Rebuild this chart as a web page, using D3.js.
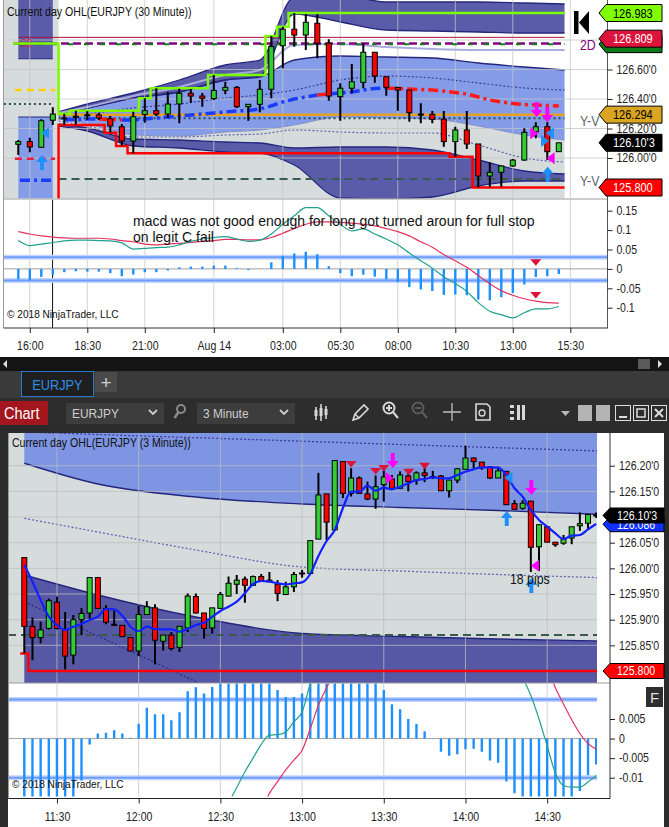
<!DOCTYPE html>
<html>
<head>
<meta charset="utf-8">
<title>EURJPY</title>
<script src="https://cdn.jsdelivr.net/npm/d3@7"></script>
<style>
  html, body { margin: 0; padding: 0; background: #2b2b2b; overflow: hidden; }
  svg { display: block; font-family: "Liberation Sans", Arial, sans-serif; }
  .cx  { transform: scaleX(0.88); transform-box: fill-box; transform-origin: 0 50%; }
  .cxm { transform: scaleX(0.88); transform-box: fill-box; transform-origin: 50% 50%; }
</style>
</head>
<body>
<svg id="chart" width="669" height="827"></svg>
<script>
// ---------- top chart: 30 minute bars, index 0 = 15:30 (Aug 13) ----------
const topTickIdx = [1, 6, 11, 17, 23, 28, 33, 38, 43, 48];
const topTickLabels = ["16:00", "18:30", "21:00", "Aug 14", "03:00", "05:30", "08:00", "10:30", "13:00", "15:30"];
const topPriceTicks = [126.0, 126.2, 126.4, 126.6];
const topGridPrices = [126.0, 126.2, 126.4, 126.6, 126.8];
const topMacdTicks = [-0.1, -0.05, 0, 0.05, 0.1, 0.15];

const topOpen  = [126.093,126.111,126.073,126.256,126.268,126.276,126.289,126.292,126.266,126.212,126.115,126.296,126.321,126.298,126.366,126.439,126.420,126.403,126.459,126.479,126.348,126.364,126.466,126.761,126.873,126.834,126.913,126.778,126.416,126.473,126.513,126.717,126.551,126.479,126.461,126.298,126.296,126.264,126.111,126.190,126.095,125.878,125.903,125.946,125.986,126.178,126.212,126.043];
const topHigh  = [126.122,126.138,126.262,126.344,126.300,126.321,126.319,126.305,126.285,126.231,126.314,126.405,126.473,126.450,126.470,126.468,126.441,126.563,126.517,126.488,126.366,126.529,126.827,126.890,126.983,126.975,126.975,126.805,126.506,126.637,126.778,126.719,126.551,126.481,126.461,126.371,126.319,126.319,126.212,126.319,126.095,125.971,125.946,125.993,126.201,126.242,126.242,126.104];
const topLow   = [126.020,126.039,126.073,126.224,126.224,126.224,126.258,126.258,126.172,126.081,126.032,126.239,126.285,126.271,126.235,126.375,126.348,126.393,126.432,126.339,126.253,126.310,126.405,126.608,126.755,126.732,126.676,126.388,126.253,126.439,126.473,126.511,126.422,126.321,126.246,126.235,126.235,126.077,126.009,126.061,125.800,125.800,125.805,125.941,125.982,126.134,125.986,126.043];
const topClose = [126.111,126.075,126.253,126.298,126.272,126.283,126.293,126.271,126.217,126.115,126.280,126.321,126.298,126.366,126.439,126.420,126.405,126.458,126.479,126.348,126.364,126.466,126.755,126.873,126.834,126.920,126.778,126.420,126.473,126.517,126.717,126.556,126.479,126.461,126.307,126.293,126.262,126.111,126.190,126.095,125.878,125.903,125.946,125.986,126.174,126.212,126.043,126.103];

// session vwap, bars 4..47
const topVwapStart = 4;
const topVwap = [126.258,126.261,126.264,126.264,126.261,126.258,126.258,126.264,126.271,126.278,126.285,126.292,126.298,126.305,126.312,126.319,126.322,126.332,126.353,126.380,126.400,126.414,126.427,126.434,126.441,126.447,126.461,126.471,126.475,126.471,126.468,126.464,126.461,126.454,126.444,126.434,126.414,126.393,126.380,126.369,126.363,126.359,126.356,126.353];

// deviation bands, sampled at bar positions
const topBandIdx = [3.5, 6, 10, 14, 18, 21, 24, 28, 32, 36, 40, 44, 47.5];
const topUp3   = [126.3119,126.3661,126.4407,126.5288,126.6305,126.6644,127.0915,127.1051,127.0576,127.0576,127.0576,127.0508,127.0441];
const topUp2   = [126.3051,126.3390,126.4068,126.4475,126.5288,126.5559,126.9763,126.9220,126.8678,126.8610,126.8542,126.8475,126.8475];
const topUp1   = [126.3051,126.3390,126.4068,126.4475,126.5288,126.5492,126.6644,126.6915,126.6847,126.6780,126.6441,126.6169,126.5966];
const topLbB   = [126.2644,126.2305,126.1559,126.1492,126.1763,126.1898,126.2237,126.2780,126.2712,126.2644,126.2169,126.1559,126.1220];
const topDn2   = [126.2305,126.2034,126.1288,126.1220,126.1085,126.1017,126.0678,126.0746,126.0746,126.0542,125.9864,125.9119,125.8915];
const topDn3   = [126.2169,126.1831,126.0814,126.0678,126.0407,126.0339,125.9525,125.7288,125.7220,125.7356,125.8102,125.8441,125.8441];
const topDotHi = [126.3051,126.3458,126.4203,126.4814,126.5627,126.5966,126.7661,126.7729,126.7525,126.7390,126.7322,126.7322,126.7322];
const topDotLb = [126.2847,126.2983,126.3390,126.3661,126.4068,126.4271,126.4610,126.5288,126.5559,126.5424,126.5085,126.4746,126.4610];
const topDotMid= [126.2508,126.2169,126.1424,126.1424,126.1559,126.1627,126.1898,126.1763,126.1695,126.1695,126.0881,126.0000,125.9729];

const topSessionStart = 3.5;
const topSessionBreak = 2.98;
const prevBandFrom = 0, prevBandTo = 3;
const prevUpperEdge = 126.673, prevLowerEdge = 126.278;
const prevDayHigh = 126.776, prevDayLow = 125.700;

const topLevelNames  = ["prevGold","prevRed","prevDot","prevVwap","orange","sessDot","sessDash","maroon","purple2D","green2D"];
const topLevelValues = [126.461, 125.995, 126.366, 125.849, 126.294, 126.269, 125.858, 126.818, 126.776, 126.772];
const topLevelFrom   = [-0.3, -0.3, -1.25, 0.15, 3.5, 3.5, 3.5, 0.05, -0.46, -0.46];
const topLevelTo     = [3.2, 3.2, 2.95, 2.95, 47.5, 47.5, 47.5, 47.5, 47.5, 47.5];

const topMarkIdx   = [2.32, 2.06, 45.07, 46.0, 44.87, 46.23, 45.8, 46.29, 46.03];
const topMarkPrice = [126.169, 126.020, 126.278, 126.244, 126.167, 126.167, 126.115, 125.998, 125.941];
const topMarkKind  = ["buyTriL","buyArrow","sellArrow","sellArrow","sellTriR","buyTriL","buyTriR","sellTriL","buyArrow"];

const topHist   = [-0.027,-0.030,-0.021,-0.015,-0.0085,-0.006,-0.007,-0.007,-0.011,-0.019,-0.0145,-0.0085,-0.0085,-0.004,0.004,0.006,0.006,0.0085,0.0085,0.002,-0.003,0,0.017,0.034,0.040,0.044,0.038,0.007,-0.011,-0.019,-0.015,-0.020,-0.027,-0.034,-0.047,-0.053,-0.057,-0.067,-0.066,-0.068,-0.079,-0.081,-0.073,-0.062,-0.040,-0.021,-0.019,-0.013];
const topMacd   = [0.073,0.060,0.064,0.068,0.072,0.074,0.074,0.073,0.072,0.067,0.051,0.053,0.055,0.056,0.062,0.071,0.077,0.081,0.083,0.077,0.071,0.074,0.090,0.115,0.137,0.158,0.158,0.137,0.115,0.098,0.103,0.090,0.077,0.062,0.041,0.021,0.002,-0.020,-0.038,-0.058,-0.087,-0.109,-0.118,-0.126,-0.113,-0.103,-0.103,-0.097];
const topSignal = [0.096,0.090,0.085,0.082,0.080,0.079,0.079,0.079,0.077,0.073,0.070,0.064,0.062,0.064,0.066,0.068,0.071,0.073,0.076,0.076,0.075,0.075,0.081,0.092,0.104,0.115,0.121,0.121,0.120,0.118,0.115,0.111,0.104,0.096,0.085,0.070,0.056,0.037,0.021,0.004,-0.017,-0.038,-0.056,-0.068,-0.077,-0.083,-0.087,-0.088];
const topMacdLevels = [0.03, -0.03];
const topMacdMarkIdx = [45, 45];
const topMacdMarkVal = [0.017, -0.067];

// right side price flags (the two-day flag sits under the open flag, its label hidden)
const topFlagValues = [126.983, 126.772, 126.809, 126.294, 126.103, 125.800];
const topFlagText   = ["126.983", "", "126.809", "126.294", "126.10'3", "125.800"];
const topFlagKind   = ["high", "twoDay", "open", "yValue", "last", "low"];

// ---------- bottom chart: 3 minute bars, index 0 = 11:18 ----------
const botTickIdx = [4, 14, 24, 34, 44, 54, 64];
const botTickLabels = ["11:30", "12:00", "12:30", "13:00", "13:30", "14:00", "14:30"];
const botPriceTicks = [125.85, 125.90, 125.95, 126.00, 126.05, 126.10, 126.15, 126.20];
const botPriceLabelTicks = [125.85, 125.90, 125.95, 126.00, 126.05, 126.15, 126.20]; // 126.10 sits under the last-price flag
const botMacdTicks = [-0.01, -0.005, 0, 0.005];

const botOpen  = [126.021,125.887,125.865,125.883,125.934,125.881,125.831,125.900,125.913,125.982,125.922,125.891,125.889,125.865,125.839,125.910,125.923,125.858,125.870,125.846,125.884,125.945,125.913,125.884,125.922,125.946,125.969,125.979,125.967,125.984,125.977,125.969,125.949,125.964,125.990,125.990,126.057,126.145,126.075,126.208,126.146,126.176,126.145,126.135,126.163,126.174,126.156,126.180,126.172,126.186,126.179,126.180,126.151,126.172,126.193,126.215,126.207,126.198,126.176,126.189,126.126,126.117,126.131,126.042,126.081,126.051,126.049,126.059,126.083,126.088,126.104];
const botHigh  = [126.021,125.904,125.896,125.941,125.945,125.915,125.909,125.923,125.982,125.982,125.928,125.918,125.889,125.865,125.928,125.936,125.930,125.870,125.876,125.887,125.951,125.951,125.913,125.923,125.954,125.984,125.987,125.984,125.986,125.989,125.993,125.977,125.974,125.993,125.997,126.054,126.186,126.145,126.210,126.208,126.195,126.179,126.169,126.181,126.195,126.182,126.189,126.189,126.189,126.205,126.190,126.182,126.172,126.195,126.239,126.216,126.207,126.198,126.198,126.189,126.133,126.133,126.131,126.085,126.081,126.051,126.065,126.081,126.109,126.105,126.109];
const botLow   = [125.834,125.821,125.854,125.881,125.881,125.803,125.813,125.870,125.902,125.922,125.891,125.888,125.867,125.839,125.829,125.909,125.813,125.840,125.840,125.837,125.876,125.912,125.863,125.873,125.922,125.945,125.950,125.933,125.966,125.974,125.974,125.936,125.948,125.954,125.982,125.990,126.057,126.055,126.073,126.137,126.140,126.146,126.133,126.116,126.130,126.156,126.156,126.150,126.163,126.168,126.174,126.151,126.138,126.166,126.193,126.195,126.192,126.174,126.176,126.124,126.114,126.114,125.993,125.995,126.051,126.042,126.046,126.047,126.073,126.075,126.098];
const botClose = [125.887,125.865,125.880,125.937,125.883,125.829,125.900,125.912,125.982,125.922,125.895,125.889,125.867,125.839,125.910,125.925,125.860,125.870,125.844,125.887,125.946,125.913,125.883,125.923,125.949,125.971,125.977,125.967,125.984,125.975,125.974,125.951,125.964,125.988,125.991,126.054,126.143,126.090,126.210,126.146,126.176,126.146,126.135,126.159,126.178,126.156,126.182,126.169,126.186,126.181,126.179,126.151,126.172,126.194,126.215,126.208,126.196,126.176,126.190,126.124,126.115,126.127,126.041,126.085,126.051,126.046,126.057,126.081,126.087,126.105,126.103];
const botEma   = [126.0065,125.9740,125.9383,125.9058,125.8896,125.8799,125.8863,125.8916,125.8994,125.9058,125.9208,125.9202,125.9077,125.8863,125.8779,125.8863,125.8818,125.8812,125.8812,125.8766,125.8818,125.8896,125.8941,125.9058,125.9169,125.9253,125.9350,125.9514,125.9695,125.9754,125.9740,125.9709,125.9689,125.9709,125.9728,125.9890,126.0241,126.0533,126.0747,126.1176,126.1493,126.1493,126.1610,126.1513,126.1571,126.1540,126.1591,126.1657,126.1721,126.1741,126.1774,126.1755,126.1755,126.1819,126.1883,126.1930,126.1969,126.1969,126.1961,126.1819,126.1560,126.1396,126.1137,126.0942,126.0811,126.0683,126.0572,126.0636,126.0650,126.0761,126.0864];

const botBandIdx     = [0, 9, 21, 34, 46, 58, 70.5];
const botBandTopDot  = [126.2657,126.2608,126.2546,126.2477,126.2413,126.2351,126.2286];
const botBandUpper   = [126.2047,126.1643,126.1390,126.1254,126.1186,126.1127,126.1053];
const botBandMidDot  = [126.0975,126.0708,126.0358,126.0026,125.9948,125.9880,125.9818];
const botBandLower   = [125.9870,125.9481,125.9052,125.8731,125.8672,125.8623,125.8585];
const botBandLowDot  = [125.9350,125.8682,125.7792,125.6800,125.6000,125.5500,125.5000];
const botValueLine = 125.870;
const botLowIdx = [-0.5, 0.5, 70.5];
const botLowVal = [125.834, 125.800, 125.800];

const botMarkIdx   = [40.0, 43.0, 44.0, 47.05, 49.0, 45.1, 44.7, 59.25, 59.05, 62.06, 62.5, 62.06];
const botMarkPrice = [126.2033, 126.1897, 126.1955, 126.1883, 126.2000, 126.1955, 126.1760, 126.1766, 126.1117, 126.1429, 126.0051, 125.9812];
const botMarkKind  = ["sigDown","sigDown","sigDown","sigDown","sigDown","sellArrow","sellTriR","buyTriL","buyArrow","sellArrow","sellTriL","buyArrow"];

const botHist = [-0.018,-0.018,-0.017,-0.016,-0.016,-0.015,-0.015,-0.0107,-0.0015,0.0013,0.0015,0.0021,0.0013,0.0002,0.0038,0.0079,0.0062,0.0062,0.0047,0.0067,0.0121,0.0131,0.0115,0.0132,0.016,0.018,0.019,0.020,0.020,0.019,0.018,0.0124,0.0106,0.0106,0.0115,0.016,0.019,0.021,0.022,0.022,0.021,0.020,0.018,0.016,0.0124,0.0088,0.0075,0.005,0.0037,0.0019,0.0001,-0.0034,-0.0044,-0.004,-0.0027,-0.0026,-0.0034,-0.0056,-0.0062,-0.011,-0.014,-0.016,-0.018,-0.019,-0.020,-0.020,-0.019,-0.017,-0.0134,-0.0094,-0.0066];
const botMacd = [-0.030,-0.032,-0.033,-0.034,-0.034,-0.035,-0.035,-0.034,-0.033,-0.032,-0.031,-0.031,-0.030,-0.030,-0.029,-0.028,-0.028,-0.027,-0.027,-0.026,-0.025,-0.024,-0.023,-0.022,-0.020,-0.0165,-0.0125,-0.0085,-0.005,-0.0015,0.0009,0.001,0.0017,0.0043,0.0068,0.014,0.020,0.025,0.029,0.033,0.036,0.038,0.039,0.040,0.040,0.039,0.038,0.037,0.036,0.035,0.034,0.032,0.031,0.030,0.029,0.028,0.027,0.025,0.023,0.021,0.019,0.0155,0.011,0.005,-0.0019,-0.0088,-0.012,-0.0124,-0.0124,-0.0111,-0.0094];
const botSignal = [-0.036,-0.036,-0.036,-0.036,-0.036,-0.036,-0.036,-0.035,-0.035,-0.034,-0.034,-0.033,-0.033,-0.032,-0.032,-0.031,-0.031,-0.030,-0.030,-0.029,-0.028,-0.028,-0.027,-0.027,-0.026,-0.025,-0.024,-0.022,-0.020,-0.018,-0.014,-0.011,-0.008,-0.0055,-0.003,0.0025,0.0085,0.013,0.017,0.020,0.023,0.026,0.028,0.030,0.031,0.032,0.032,0.032,0.032,0.032,0.031,0.031,0.030,0.029,0.028,0.027,0.026,0.025,0.024,0.023,0.022,0.021,0.021,0.020,0.018,0.013,0.0088,0.0048,0.0013,-0.0013,-0.0027];
const botMacdLevels = [0.01, -0.01];

const botFlagValues = [126.086, 126.103, 125.800];
const botFlagText   = ["126.086", "126.10'3", "125.800"];
const botFlagKind   = ["ema", "last", "low"];

// ---------- styles ----------
const DARK = "#5a5ca9", LIGHT = "#859ce9", GRAY = "#d6dcdc", NAVY = "#24267e";
const UP = "#33cc33", DOWN = "#ff0000";
const VW_BLUE = "#1a3cff", VW_RED = "#ff1a1a";
const HIST = "#1e90ff", MACD_C = "#20a08f", SIG_C = "#e2335f";

const LEVEL_STYLE = {
  prevGold: {stroke: "#ffd000", w: 2.5, dash: "7,5"},
  prevRed:  {stroke: "#e8203c", w: 2.5, dash: "7,5"},
  prevDot:  {stroke: "#2f4f4f", w: 2,   dash: "2,3"},
  prevVwap: {stroke: VW_BLUE,   w: 3.5, dash: "10,4,3,4"},
  orange:   {stroke: "#e8a020", w: 2.5},
  sessDot:  {stroke: "#2f4f4f", w: 2,   dash: "2,3"},
  sessDash: {stroke: "#3a5a50", w: 2,   dash: "8,5"},
  maroon:   {stroke: "#b0103a", w: 1},
  purple2D: {stroke: "#800080", w: 2.5, dash: "8,4"},
  green2D:  {stroke: "#108010", w: 2,   dash: "5,11", off: 9}
};
const FLAG_STYLE = {
  high:   {fill: "#7fff00", text: "#000"},
  twoDay: {fill: "#0a7a1a", text: "#000"},
  open:   {fill: "#dc143c", text: "#fff"},
  yValue: {fill: "#daa520", text: "#000"},
  last:   {fill: "#000000", text: "#fff"},
  low:    {fill: "#ff0000", text: "#fff"},
  ema:    {fill: "#1030ff", text: "#fff"}
};
const MARK = {
  sellArrow: {fill: "#ff00ff", d: "M0,0 L-6,-7 L-2,-7 L-2,-15 L2,-15 L2,-7 L6,-7 Z"},
  buyArrow:  {fill: "#1e90ff", d: "M0,0 L-6,7 L-2,7 L-2,15 L2,15 L2,7 L6,7 Z"},
  sellTriL:  {fill: "#ff00ff", d: "M-4,0 L4,-6 L4,6 Z"},
  sellTriR:  {fill: "#ff00ff", d: "M4,0 L-4,-6 L-4,6 Z"},
  buyTriL:   {fill: "#1e90ff", d: "M-4,0 L4,-6 L4,6 Z"},
  buyTriR:   {fill: "#1e90ff", d: "M4,0 L-4,-6 L-4,6 Z"},
  sigDown:   {fill: "#dc143c", d: "M-5.5,-3 L5.5,-3 L0,3.5 Z"}
};

const fracFmt = v => { const s = v.toFixed(3); return s.slice(0, -1) + "'" + s.slice(-1); };
const macdFmt = v => (Math.abs(v) < 1e-9 ? "0" : String(+v.toFixed(3)));

// ---------- helpers ----------
const svg = d3.select("#chart");
const defs = svg.append("defs");
function clip(id, x, y, w, h) {
  defs.append("clipPath").attr("id", id).append("rect")
    .attr("x", x).attr("y", y).attr("width", w).attr("height", h);
  return `url(#${id})`;
}
function txt(g, x, y, s, size, fill, cls, anchor) {
  return g.append("text").attr("x", x).attr("y", y).text(s)
    .attr("font-size", size).attr("fill", fill)
    .attr("text-anchor", anchor || "start").attr("class", cls || null);
}
function drawCandles(g, x, y, O, Hh, L, C, bw) {
  const idx = d3.range(O.length);
  g.selectAll(".wick").data(idx).join("line").attr("class", "wick")
    .attr("x1", i => x(i)).attr("x2", i => x(i))
    .attr("y1", i => y(Hh[i])).attr("y2", i => y(L[i]))
    .attr("stroke", "#000").attr("stroke-width", 2);
  g.selectAll(".body").data(idx).join("rect").attr("class", "body")
    .attr("x", i => x(i) - bw / 2)
    .attr("y", i => Math.min(y(O[i]), y(C[i])))
    .attr("width", bw)
    .attr("height", i => Math.max(1, Math.abs(y(O[i]) - y(C[i]))))
    .attr("fill", i => C[i] >= O[i] ? UP : DOWN)
    .attr("stroke", "#000").attr("stroke-width", 1);
}
function drawMarks(g, x, y, I, P, K) {
  g.selectAll(".mark").data(d3.range(I.length)).join("path").attr("class", "mark")
    .attr("transform", k => `translate(${x(I[k])},${y(P[k])})`)
    .attr("d", k => MARK[K[k]].d).attr("fill", k => MARK[K[k]].fill);
}
function drawFlags(g, y, V, T, K, x0, x1, h, size) {
  V.forEach((v, k) => {
    const yc = y(v), st = FLAG_STYLE[K[k]];
    g.append("path")
      .attr("d", `M${x0},${yc} L${x0 + 7},${yc - h / 2} L${x1},${yc - h / 2} L${x1},${yc + h / 2} L${x0 + 7},${yc + h / 2} Z`)
      .attr("fill", st.fill).attr("stroke", "#000").attr("stroke-width", 1);
    if (T[k]) txt(g, x0 + 14, yc + size * 0.36, T[k], size, st.text, "cx");
  });
}
function styleAxis(g, size) {
  g.attr("font-family", null).attr("font-size", size).attr("color", "#222");
  g.select(".domain").remove();
}

// ---------- page frame ----------
svg.append("rect").attr("width", 669).attr("height", 827).attr("fill", "#2b2b2b");
svg.append("rect").attr("width", 669).attr("height", 357).attr("fill", "#ffffff");

// ================= TOP CHART =================
const xT = d3.scaleLinear().domain([0, 47]).range([18.3, 558.8]);
const yT = d3.scaleLinear().domain([126, 126.6]).range([158, 69.5]);
const yTM = d3.scaleLinear().domain([-0.1, 0.15]).range([307.7, 210.7]);
const T_BOT = 198.5, M_TOP = 199.5, M_BOT = 328;

const tp = svg.append("g").attr("clip-path", clip("cTop", 4, 0, 604, T_BOT));
tp.append("rect").attr("x", 4).attr("y", 0).attr("width", xT(topSessionStart) - 4).attr("height", T_BOT).attr("fill", GRAY);
tp.append("rect").attr("x", xT(prevBandFrom)).attr("width", xT(prevBandTo) - xT(prevBandFrom))
  .attr("y", -2).attr("height", yT(prevUpperEdge) + 2).attr("fill", DARK);
tp.append("rect").attr("x", xT(prevBandFrom)).attr("width", xT(prevBandTo) - xT(prevBandFrom))
  .attr("y", yT(prevLowerEdge)).attr("height", T_BOT - yT(prevLowerEdge)).attr("fill", LIGHT);
tp.append("line").attr("x1", xT(prevBandFrom)).attr("x2", xT(prevBandTo))
  .attr("y1", yT(prevUpperEdge)).attr("y2", yT(prevUpperEdge)).attr("stroke", NAVY).attr("stroke-width", 1.2);
tp.append("line").attr("x1", xT(prevBandFrom)).attr("x2", xT(prevBandTo))
  .attr("y1", yT(prevLowerEdge)).attr("y2", yT(prevLowerEdge)).attr("stroke", NAVY).attr("stroke-width", 1.2);

const knots = topBandIdx.map((i, k) => ({i, up3: topUp3[k], up2: topUp2[k], up1: topUp1[k], lb: topLbB[k],
  dn2: topDn2[k], dn3: topDn3[k], dh: topDotHi[k], dl: topDotLb[k], dm: topDotMid[k]}));
function bandArea(g, y0, y1, fill) {
  g.append("path").datum(knots)
    .attr("d", d3.area().curve(d3.curveMonotoneX).x(d => xT(d.i)).y0(y0).y1(y1)).attr("fill", fill);
}
function bandLine(g, key, stroke, w, dash) {
  g.append("path").datum(knots)
    .attr("d", d3.line().curve(d3.curveMonotoneX).x(d => xT(d.i)).y(d => yT(d[key])))
    .attr("fill", "none").attr("stroke", stroke).attr("stroke-width", w).attr("stroke-dasharray", dash || null);
}
bandArea(tp, d => yT(d.up2), d => yT(d.up3), DARK);
bandArea(tp, d => yT(d.lb), d => yT(d.up1), LIGHT);
bandArea(tp, () => T_BOT + 2, d => yT(d.lb), GRAY);
bandArea(tp, d => yT(d.dn3), d => yT(d.dn2), DARK);
bandLine(tp, "up3", NAVY, 1.3);
bandLine(tp, "up2", NAVY, 1.3);
bandLine(tp, "up1", NAVY, 1.3);
bandLine(tp, "lb", "#7f8fc8", 1);
bandLine(tp, "dn2", NAVY, 1.3);
bandLine(tp, "dn3", NAVY, 1.3);
bandLine(tp, "dh", "#a9acdc", 2);
bandLine(tp, "dl", "#3a3ca0", 1.2, "2,2");
bandLine(tp, "dm", "#5e60b0", 1.2, "2,2");

// grid
tp.selectAll(".vg").data(topTickIdx).join("line").attr("class", "vg")
  .attr("x1", d => xT(d)).attr("x2", d => xT(d)).attr("y1", 0).attr("y2", T_BOT)
  .attr("stroke", "#c4c4c4").attr("stroke-opacity", 0.75);
tp.selectAll(".hg").data(topGridPrices).join("line").attr("class", "hg")
  .attr("x1", 4).attr("x2", 608).attr("y1", d => yT(d)).attr("y2", d => yT(d))
  .attr("stroke", "#c4c4c4").attr("stroke-opacity", 0.75);

// level lines
topLevelNames.forEach((n, k) => {
  const st = LEVEL_STYLE[n];
  tp.append("line").attr("x1", xT(topLevelFrom[k])).attr("x2", xT(topLevelTo[k]))
    .attr("y1", yT(topLevelValues[k])).attr("y2", yT(topLevelValues[k]))
    .attr("stroke", st.stroke).attr("stroke-width", st.w)
    .attr("stroke-dasharray", st.dash || null).attr("stroke-dashoffset", st.off || 0);
});
txt(tp, xT(0.15), yT(126.752), "S2", 10, "#d02040");

// running high / low of the session
function runningStep(vals, start, prev, fn) {
  const pts = [[-0.46, prev]];
  let m = null;
  for (let i = start; i < vals.length; i++) {
    m = m === null ? vals[i] : fn(m, vals[i]);
    pts.push([i - 0.5, m]);
  }
  pts.push([vals.length - 0.5, m]);
  return pts;
}
const stepLine = d3.line().curve(d3.curveStepAfter).x(d => xT(d[0])).y(d => yT(d[1]));
tp.append("path").datum(runningStep(topHigh, topVwapStart, prevDayHigh, Math.max))
  .attr("d", stepLine).attr("fill", "none").attr("stroke", "#7cfc00").attr("stroke-width", 2.5);
tp.append("path").datum(runningStep(topLow, topVwapStart, prevDayLow, Math.min))
  .attr("d", stepLine).attr("fill", "none").attr("stroke", "#ff0000").attr("stroke-width", 2.5);

// vwap, blue while price holds above, red below
const vw = topVwap.map((v, k) => ({i: k + topVwapStart, v}));
const runs = [];
let cur = null;
for (let k = 1; k < vw.length; k++) {
  const c = topClose[vw[k].i] >= vw[k].v ? VW_BLUE : VW_RED;
  if (!cur || cur.c !== c) { cur = {c, pts: [vw[k - 1]]}; runs.push(cur); }
  cur.pts.push(vw[k]);
}
runs.forEach(r => {
  tp.append("path").datum(r.pts)
    .attr("d", d3.line().x(d => xT(d.i)).y(d => yT(d.v)))
    .attr("fill", "none").attr("stroke", r.c).attr("stroke-width", 3.5).attr("stroke-dasharray", "10,4,3,4");
});

drawCandles(tp, xT, yT, topOpen, topHigh, topLow, topClose, 5);
drawMarks(tp, xT, yT, topMarkIdx, topMarkPrice, topMarkKind);
txt(svg, 7, 16, "Current day OHL(EURJPY (30 Minute))", 12, "#111", "cx");

// top macd panel
const tm = svg.append("g").attr("clip-path", clip("cTopM", 4, M_TOP, 604, M_BOT - M_TOP));
tm.selectAll(".vg").data(topTickIdx).join("line").attr("class", "vg")
  .attr("x1", d => xT(d)).attr("x2", d => xT(d)).attr("y1", M_TOP).attr("y2", M_BOT).attr("stroke", "#d2d2d2");
tm.append("line").attr("x1", xT(topSessionBreak)).attr("x2", xT(topSessionBreak))
  .attr("y1", M_TOP).attr("y2", M_BOT).attr("stroke", "#111").attr("stroke-width", 1);
tm.append("line").attr("x1", 4).attr("x2", 608).attr("y1", yTM(0)).attr("y2", yTM(0)).attr("stroke", "#a0a0a0");
topMacdLevels.forEach(v => {
  tm.append("line").attr("x1", 0).attr("x2", 608).attr("y1", yTM(v)).attr("y2", yTM(v)).attr("stroke", "#c4d6ff").attr("stroke-width", 5);
  tm.append("line").attr("x1", 0).attr("x2", 608).attr("y1", yTM(v)).attr("y2", yTM(v)).attr("stroke", "#6e9cff").attr("stroke-width", 2);
});
tm.selectAll(".hb").data(topHist).join("line").attr("class", "hb")
  .attr("x1", (d, i) => xT(i)).attr("x2", (d, i) => xT(i)).attr("y1", yTM(0)).attr("y2", d => yTM(d))
  .attr("stroke", HIST).attr("stroke-width", 2.4);
const tLine = d3.line().curve(d3.curveMonotoneX).x((d, i) => xT(i)).y(d => yTM(d));
tm.append("path").datum(topSignal).attr("d", tLine).attr("fill", "none").attr("stroke", SIG_C).attr("stroke-width", 1.2);
tm.append("path").datum(topMacd).attr("d", tLine).attr("fill", "none").attr("stroke", MACD_C).attr("stroke-width", 1.2);
drawMarks(tm, xT, yTM, topMacdMarkIdx, topMacdMarkVal, ["sigDown", "sigDown"]);
txt(svg, 133, 226, "macd was not good enough for long got turned aroun for full stop", 14, "#111");
txt(svg, 133, 242, "on legit C fail", 14, "#111");
txt(svg, 7, 318, "\u00a9 2018 NinjaTrader, LLC", 11.5, "#111", "cx");

// top frame lines & axes
svg.append("line").attr("x1", 3.5).attr("x2", 3.5).attr("y1", 0).attr("y2", M_BOT).attr("stroke", "#9a9a9a");
svg.append("line").attr("x1", 4).attr("x2", 608).attr("y1", 199).attr("y2", 199).attr("stroke", "#9a9a9a");
svg.append("line").attr("x1", 607.5).attr("x2", 607.5).attr("y1", 0).attr("y2", M_BOT).attr("stroke", "#555");
svg.append("line").attr("x1", 3.5).attr("x2", 608).attr("y1", M_BOT).attr("y2", M_BOT).attr("stroke", "#333");

const axTP = svg.append("g").attr("transform", "translate(607.5,0)")
  .call(d3.axisRight(yT).tickValues(topPriceTicks).tickSize(5).tickPadding(4).tickFormat(fracFmt));
styleAxis(axTP, 12); axTP.selectAll("text").attr("class", "cx");
const axTM = svg.append("g").attr("transform", "translate(607.5,0)")
  .call(d3.axisRight(yTM).tickValues(topMacdTicks).tickSize(5).tickPadding(4).tickFormat(macdFmt));
styleAxis(axTM, 12); axTM.selectAll("text").attr("class", "cx");
const axTX = svg.append("g").attr("transform", `translate(0,${M_BOT})`)
  .call(d3.axisBottom(xT).tickValues(topTickIdx).tickSize(5).tickPadding(8).tickFormat((d, k) => topTickLabels[k]));
styleAxis(axTX, 12); axTX.selectAll("text").attr("class", "cxm");

txt(svg, 580, 50, "2D", 14, "#800080", "cx");
txt(svg, 580, 126, "Y-V", 14, "#5a6470", "cx");
txt(svg, 580, 186, "Y-V", 14, "#5a6470", "cx");
svg.append("path").attr("d", "M574,11 h4.5 v23 h-4.5 Z M589,11 L579,22.5 L589,34 Z").attr("fill", "#000");
drawFlags(svg, yT, topFlagValues, topFlagText, topFlagKind, 599, 662, 17, 12.5);

// ================= WINDOW CHROME =================
const ui = svg.append("g");
ui.append("rect").attr("x", 0).attr("y", 357).attr("width", 669).attr("height", 14).attr("fill", "#141414");
ui.append("path").attr("d", "M3,364 l4,-4 v8 Z").attr("fill", "#ddd");
ui.append("rect").attr("x", 638).attr("y", 359).attr("width", 12).attr("height", 10).attr("fill", "#5a5a5a");
ui.append("path").attr("d", "M658,360 l4,4 l-4,4 Z").attr("fill", "#ddd");
ui.append("rect").attr("x", 0).attr("y", 371).attr("width", 669).attr("height", 27).attr("fill", "#3a3a3a");
ui.append("rect").attr("x", 21.5).attr("y", 371.5).attr("width", 72).attr("height", 25).attr("fill", "#1f1f1f").attr("stroke", "#2b78c8");
txt(ui, 57.5, 390, "EURJPY", 14.5, "#2f8fe6", "cxm", "middle");
ui.append("rect").attr("x", 95).attr("y", 372).attr("width", 22).attr("height", 20).attr("fill", "#4a4a4a");
txt(ui, 106, 389, "+", 19, "#d0d0d0", null, "middle");
ui.append("rect").attr("x", 0).attr("y", 398).attr("width", 669).attr("height", 27).attr("fill", "#2d2d2d");
ui.append("rect").attr("x", 0).attr("y", 401).attr("width", 48).attr("height", 24).attr("fill", "#a3161e");
txt(ui, 4, 419, "Chart", 16.5, "#fff", "cx");
ui.append("rect").attr("x", 66).attr("y", 403).attr("width", 98).attr("height", 21).attr("fill", "#3d3d3d");
txt(ui, 72, 418.5, "EURJPY", 13.5, "#cfcfcf", "cx");
ui.append("path").attr("d", "M149,410 l4,4 l4,-4").attr("fill", "none").attr("stroke", "#ccc").attr("stroke-width", 1.8);
ui.append("circle").attr("cx", 181).attr("cy", 409).attr("r", 4).attr("fill", "none").attr("stroke", "#8a8a8a").attr("stroke-width", 2);
ui.append("line").attr("x1", 178.5).attr("y1", 412).attr("x2", 174.5).attr("y2", 418).attr("stroke", "#8a8a8a").attr("stroke-width", 2.5);
ui.append("rect").attr("x", 197).attr("y", 403).attr("width", 98).attr("height", 21).attr("fill", "#3d3d3d");
txt(ui, 203, 418.5, "3 Minute", 13.5, "#cfcfcf", "cx");
ui.append("path").attr("d", "M280,410 l4,4 l4,-4").attr("fill", "none").attr("stroke", "#ccc").attr("stroke-width", 1.8);
const IC = "#d8d8d8";
ui.append("path").attr("d", "M316,407 v13 M321,404 v17 M326,406 v13").attr("stroke", IC).attr("stroke-width", 1.6);
ui.append("path").attr("d", "M314.5,410 h3 v6 h-3 Z M319.5,408 h3 v8 h-3 Z M324.5,409 h3 v6 h-3 Z").attr("fill", IC);
ui.append("path").attr("d", "M353,420 l2,-6 l9,-9 l4,4 l-9,9 Z M355,414 l4,4").attr("fill", "none").attr("stroke", IC).attr("stroke-width", 1.6);
ui.append("circle").attr("cx", 389).attr("cy", 408).attr("r", 5.5).attr("fill", "none").attr("stroke", IC).attr("stroke-width", 2);
ui.append("path").attr("d", "M393,412 l5,6 M386,408 h6 M389,405 v6").attr("stroke", IC).attr("stroke-width", 2);
ui.append("circle").attr("cx", 418).attr("cy", 408).attr("r", 5.5).attr("fill", "none").attr("stroke", "#5c5c5c").attr("stroke-width", 2);
ui.append("path").attr("d", "M422,412 l5,6 M415,408 h6").attr("stroke", "#5c5c5c").attr("stroke-width", 2);
ui.append("path").attr("d", "M452,403 v18 M443,412 h18").attr("stroke", "#bdbdbd").attr("stroke-width", 1.3);
ui.append("path").attr("d", "M476,404 h11 l3,3 v13 h-14 Z").attr("fill", "none").attr("stroke", IC).attr("stroke-width", 1.6);
ui.append("circle").attr("cx", 482).attr("cy", 413).attr("r", 3).attr("fill", "none").attr("stroke", IC).attr("stroke-width", 1.4);
ui.append("path").attr("d", "M510,405 h4 v3 h-4 Z M510,411 h4 v3 h-4 Z M510,417 h4 v3 h-4 Z M517,405 h3 v15 h-3 Z M522,405 h3 v15 h-3 Z").attr("fill", IC);
ui.append("path").attr("d", "M561,411 h9 l-4.5,5 Z").attr("fill", "#bbb");
ui.append("rect").attr("x", 578).attr("y", 405).attr("width", 14).attr("height", 16).attr("fill", "#b4b4b4");
ui.append("rect").attr("x", 596).attr("y", 405).attr("width", 14).attr("height", 16).attr("fill", "#b4b4b4");
ui.append("rect").attr("x", 615.5).attr("y", 405.5).attr("width", 15).attr("height", 15).attr("fill", "none").attr("stroke", "#ddd");
ui.append("path").attr("d", "M619,417 h8").attr("stroke", "#ddd").attr("stroke-width", 2);
ui.append("rect").attr("x", 633.5).attr("y", 405.5).attr("width", 15).attr("height", 15).attr("fill", "none").attr("stroke", "#ddd");
ui.append("rect").attr("x", 637).attr("y", 409).attr("width", 8).attr("height", 8).attr("fill", "none").attr("stroke", "#ddd").attr("stroke-width", 1.5);
ui.append("rect").attr("x", 651.5).attr("y", 405.5).attr("width", 15).attr("height", 15).attr("fill", "none").attr("stroke", "#ddd");
ui.append("path").attr("d", "M655,409 l8,8 M663,409 l-8,8").attr("stroke", "#ddd").attr("stroke-width", 2);

// ================= BOTTOM CHART =================
svg.append("rect").attr("x", 8).attr("y", 433).attr("width", 656).attr("height", 394).attr("fill", "#ffffff");
const xB = d3.scaleLinear().domain([0, 70]).range([24.3, 596.2]);
const yB = d3.scaleLinear().domain([125.8, 126.2]).range([671, 465.7]);
const yBM = d3.scaleLinear().domain([-0.01, 0.005]).range([777.7, 719]);
const B_TOP = 433, B_BOT = 683, BM_BOT = 798.5, B_R = 597;

const bp = svg.append("g").attr("clip-path", clip("cBot", 8, B_TOP, B_R - 8, B_BOT - B_TOP));
bp.append("rect").attr("x", 8).attr("y", B_TOP).attr("width", B_R - 8).attr("height", B_BOT - B_TOP).attr("fill", GRAY);
const bk = botBandIdx.map((i, k) => ({i, td: botBandTopDot[k], up: botBandUpper[k], md: botBandMidDot[k], lo: botBandLower[k], ld: botBandLowDot[k]}));
const bArea = (y0, y1, fill) => bp.append("path").datum(bk)
  .attr("d", d3.area().curve(d3.curveMonotoneX).x(d => xB(d.i)).y0(y0).y1(y1)).attr("fill", fill);
const bLine = (key, stroke, w, dash) => bp.append("path").datum(bk)
  .attr("d", d3.line().curve(d3.curveMonotoneX).x(d => xB(d.i)).y(d => yB(d[key])))
  .attr("fill", "none").attr("stroke", stroke).attr("stroke-width", w).attr("stroke-dasharray", dash || null);
bArea(d => yB(d.up), () => B_TOP - 5, "#7d95e2");
bArea(() => B_BOT + 5, d => yB(d.lo), "#5658a5");
bLine("td", "#3a3ca0", 1.3, "2,2");
bLine("up", NAVY, 1.4);
bLine("md", "#6466b4", 1.3, "2,2");
bLine("lo", NAVY, 1.4);
bLine("ld", "#2a2c8a", 1.3, "2,2");

bp.selectAll(".vg").data(botTickIdx).join("line").attr("class", "vg")
  .attr("x1", d => xB(d)).attr("x2", d => xB(d)).attr("y1", B_TOP).attr("y2", B_BOT)
  .attr("stroke", "#bcbcbc").attr("stroke-opacity", 0.75);
bp.selectAll(".hg").data(botPriceTicks).join("line").attr("class", "hg")
  .attr("x1", 8).attr("x2", B_R).attr("y1", d => yB(d)).attr("y2", d => yB(d))
  .attr("stroke", "#bcbcbc").attr("stroke-opacity", 0.75);
bp.append("line").attr("x1", 8).attr("x2", B_R).attr("y1", yB(botValueLine)).attr("y2", yB(botValueLine))
  .attr("stroke", "#3a5a50").attr("stroke-width", 2).attr("stroke-dasharray", "8,5");
bp.append("path").datum(botLowIdx.map((i, k) => [i, botLowVal[k]]))
  .attr("d", d3.line().curve(d3.curveStepAfter).x(d => xB(d[0])).y(d => yB(d[1])))
  .attr("fill", "none").attr("stroke", "#ff0000").attr("stroke-width", 2.5);
drawCandles(bp, xB, yB, botOpen, botHigh, botLow, botClose, 5);
bp.append("path").datum(botEma)
  .attr("d", d3.line().curve(d3.curveMonotoneX).x((d, i) => xB(i)).y(d => yB(d)))
  .attr("fill", "none").attr("stroke", "#1020ff").attr("stroke-width", 2.2);
drawMarks(bp, xB, yB, botMarkIdx, botMarkPrice, botMarkKind);
txt(bp, xB(59.45), yB(125.9695), "18 pips", 14, "#111", "cx");
txt(svg, 12, 447, "Current day OHL(EURJPY (3 Minute))", 12, "#111", "cx");

// bottom macd
const bm = svg.append("g").attr("clip-path", clip("cBotM", 8, B_BOT + 0.5, B_R - 8, BM_BOT - B_BOT - 2.5));
bm.selectAll(".vg").data(botTickIdx).join("line").attr("class", "vg")
  .attr("x1", d => xB(d)).attr("x2", d => xB(d)).attr("y1", B_BOT).attr("y2", BM_BOT).attr("stroke", "#d2d2d2");
bm.append("line").attr("x1", 8).attr("x2", 610).attr("y1", yBM(0)).attr("y2", yBM(0)).attr("stroke", "#a0a0a0");
botMacdLevels.forEach(v => {
  bm.append("line").attr("x1", 8).attr("x2", 610).attr("y1", yBM(v)).attr("y2", yBM(v)).attr("stroke", "#c4d6ff").attr("stroke-width", 5);
  bm.append("line").attr("x1", 8).attr("x2", 610).attr("y1", yBM(v)).attr("y2", yBM(v)).attr("stroke", "#6e9cff").attr("stroke-width", 2);
});
bm.selectAll(".hb").data(botHist).join("line").attr("class", "hb")
  .attr("x1", (d, i) => xB(i)).attr("x2", (d, i) => xB(i)).attr("y1", yBM(0)).attr("y2", d => yBM(d))
  .attr("stroke", HIST).attr("stroke-width", 2.4);
const bLineM = d3.line().curve(d3.curveMonotoneX).x((d, i) => xB(i)).y(d => yBM(d));
bm.append("path").datum(botSignal).attr("d", bLineM).attr("fill", "none").attr("stroke", SIG_C).attr("stroke-width", 1.2);
bm.append("path").datum(botMacd).attr("d", bLineM).attr("fill", "none").attr("stroke", MACD_C).attr("stroke-width", 1.2);
txt(svg, 12, 788, "\u00a9 2018 NinjaTrader, LLC", 11.5, "#111", "cx");

// bottom frame & axes
svg.append("line").attr("x1", 8).attr("x2", 610).attr("y1", B_BOT).attr("y2", B_BOT).attr("stroke", "#9a9a9a");
svg.append("line").attr("x1", 610).attr("x2", 610).attr("y1", B_TOP).attr("y2", BM_BOT).attr("stroke", "#333");
svg.append("line").attr("x1", 8).attr("x2", 610).attr("y1", BM_BOT).attr("y2", BM_BOT).attr("stroke", "#222");
svg.append("line").attr("x1", 8.5).attr("x2", 8.5).attr("y1", B_TOP).attr("y2", BM_BOT).attr("stroke", "#9a9a9a");
const axBP = svg.append("g").attr("transform", "translate(610,0)")
  .call(d3.axisRight(yB).tickValues(botPriceLabelTicks).tickSize(5).tickPadding(4).tickFormat(fracFmt));
styleAxis(axBP, 12); axBP.selectAll("text").attr("class", "cx");
const axBM = svg.append("g").attr("transform", "translate(610,0)")
  .call(d3.axisRight(yBM).tickValues(botMacdTicks).tickSize(5).tickPadding(4).tickFormat(macdFmt));
styleAxis(axBM, 12); axBM.selectAll("text").attr("class", "cx");
const axBX = svg.append("g").attr("transform", `translate(0,${BM_BOT})`)
  .call(d3.axisBottom(xB).tickValues(botTickIdx).tickSize(5).tickPadding(9).tickFormat((d, k) => botTickLabels[k]));
styleAxis(axBX, 12); axBX.selectAll("text").attr("class", "cxm");
drawFlags(svg, yB, botFlagValues, botFlagText, botFlagKind, 603, 664, 15, 12);
svg.append("rect").attr("x", 646).attr("y", 687).attr("width", 17).attr("height", 20).attr("fill", "#2e2e2e");
txt(svg, 654.5, 703, "F", 15, "#dedede", null, "middle");
</script>
</body>
</html>
